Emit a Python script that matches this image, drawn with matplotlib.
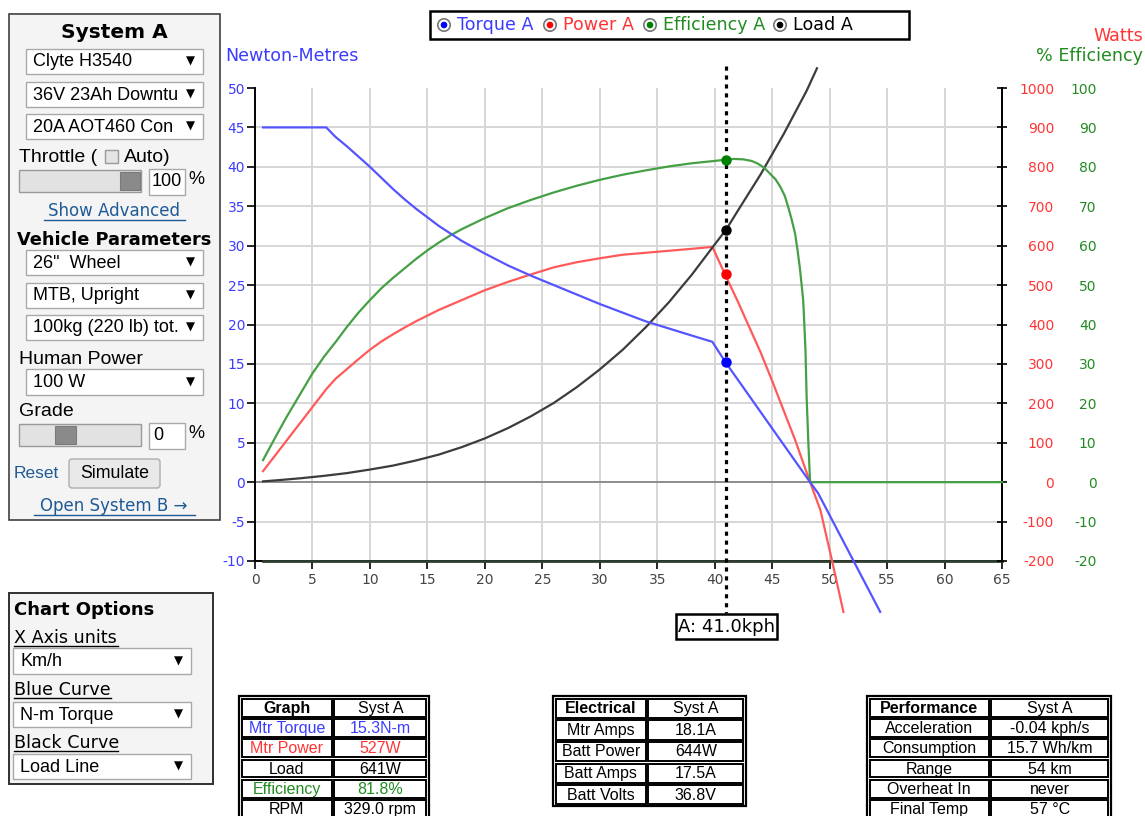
import matplotlib
matplotlib.use("Agg")
import matplotlib.pyplot as plt
from matplotlib.patches import Rectangle, Circle, FancyBboxPatch
from matplotlib import transforms

plt.rcParams['font.family'] = ['DejaVu Sans']

W, H = 1145, 816

# ---------------- data ----------------
torque_kph = [0.7, 6.2, 7, 8, 9, 10, 11, 12, 13, 14, 16, 18, 20, 22, 24, 26, 28, 30, 32,
              34, 36, 38, 39.8, 40.9, 48.3, 49.0, 54.4]
torque_nm = [45, 45, 43.8, 42.6, 41.3, 40.0, 38.6, 37.2, 35.9, 34.7, 32.5, 30.6, 29.0,
             27.5, 26.2, 25.0, 23.8, 22.6, 21.5, 20.4, 19.5, 18.6, 17.8, 15.3, 0, -1.4,
             -16.45]

power_kph = [0.7, 6.2, 7, 8, 9, 10, 11, 12, 13, 14, 16, 18, 20, 22, 24, 26, 28, 30, 32,
             34, 36, 38, 39.8, 40.9, 42, 43, 44, 45, 46, 47, 48.3, 49.2, 50.2, 51.2]
power_w = [28, 236, 262, 287, 312, 336, 357, 375, 392, 408, 437, 462, 487, 508, 527, 545,
           558, 568, 577, 582, 587, 592, 597, 527, 459, 394, 329, 257, 182, 107, 0, -71,
           -198, -329]

eff_kph = [0.7, 1.7, 2.7, 3.9, 5, 6, 7, 8, 9, 10, 11, 12, 13, 14, 15, 16, 17, 18, 20, 22,
           24, 26, 28, 30, 32, 34, 36, 38, 40, 40.9, 41.7, 42.5, 43.2, 43.7, 44.3, 44.8,
           45.3, 45.7, 46.1, 46.4, 46.7, 47.0, 47.2, 47.4, 47.55, 47.7, 47.8, 47.9, 48.0,
           48.15, 48.3, 65]
eff_pct = [5.6, 11.0, 16.3, 22.2, 27.6, 31.8, 35.5, 39.4, 43.0, 46.2, 49.2, 51.8, 54.2,
           56.6, 58.8, 60.8, 62.6, 64.2, 67.0, 69.5, 71.6, 73.5, 75.2, 76.7, 78.0, 79.1,
           80.1, 80.9, 81.5, 81.8, 82.0, 81.9, 81.5, 80.9, 79.8, 78.3, 76.8, 75.0, 72.6,
           69.8, 66.6, 63.0, 59.0, 54.6, 50.5, 46.2, 40.0, 33.5, 21.6, 10.0, 0, 0]

load_kph = [0.7, 2, 4, 6, 8, 10, 12, 14, 16, 18, 20, 22, 24, 26, 28, 30, 32, 34, 36, 38,
            40, 41, 42, 44, 46, 48, 48.9]
load_w = [2, 5, 10, 16, 23, 32, 42, 55, 70, 89, 111, 137, 167, 201, 241, 286, 336, 393,
          456, 526, 603, 641, 688, 781, 883, 993, 1050]

floor_kph = [0.7, 65]
floor_nm = [-10, -10]

cursor_kph = 41.0
cursor_torque = 15.3
cursor_power = 527
cursor_eff = 81.8
cursor_load = 641

x_ticks = list(range(0, 70, 5))
nm_ticks = list(range(-10, 55, 5))
watt_ticks = list(range(-200, 1100, 100))
eff_ticks = list(range(-20, 110, 10))

legend_labels = ["Torque A", "Power A", "Efficiency A", "Load A"]

graph_rows = [("Graph", "Syst A"), ("Mtr Torque", "15.3N-m"), ("Mtr Power", "527W"),
              ("Load", "641W"), ("Efficiency", "81.8%"), ("RPM", "329.0 rpm")]
elec_rows = [("Electrical", "Syst A"), ("Mtr Amps", "18.1A"), ("Batt Power", "644W"),
             ("Batt Amps", "17.5A"), ("Batt Volts", "36.8V")]
perf_rows = [("Performance", "Syst A"), ("Acceleration", "-0.04 kph/s"),
             ("Consumption", "15.7 Wh/km"), ("Range", "54 km"), ("Overheat In", "never"),
             ("Final Temp", "57 °C")]

# ---------------- colours ----------------
BLUE_T, RED_T, GREEN_T = '#3c3cff', '#ff3535', '#228b22'
BLUE_L, RED_L, GREEN_L, BLACK_L = '#5555ff', '#ff5a5a', '#45a045', '#3c3c3c'
LINK = '#1f5a96'
GRID = '#d6d6d6'

fig = plt.figure(figsize=(W / 100, H / 100), dpi=100)
fig.patch.set_facecolor('white')

L, R, T, B = 255, 1002, 88, 561
ax = fig.add_axes([L / W, 1 - B / H, (R - L) / W, (B - T) / H])
ax.set_xlim(0, 65)
ax.set_ylim(-10, 50)
ax.set_facecolor('white')

for sp in ['left', 'bottom', 'right']:
    ax.spines[sp].set_color('black')
    ax.spines[sp].set_linewidth(1.4)
ax.spines['top'].set_visible(False)

for xv in x_ticks[1:-1]:
    ax.axvline(xv, color=GRID, lw=1.4, zorder=0)
for yv in nm_ticks[1:-1]:
    ax.axhline(yv, color=('#8c8c8c' if yv == 0 else GRID), lw=1.4, zorder=0)

ax.set_xticks(x_ticks)
ax.set_xticklabels([str(v) for v in x_ticks])
ax.set_yticks(nm_ticks)
ax.set_yticklabels([str(v) for v in nm_ticks])
ax.tick_params(axis='x', direction='out', length=6, width=1.2, color='black',
               labelcolor='#444444', labelsize=10, pad=3)
ax.tick_params(axis='y', direction='out', length=6, width=1.2, color='black',
               labelcolor=BLUE_T, labelsize=10, pad=1)

axW = ax.twinx()
axW.set_ylim(-200, 1000)
for sp in ['left', 'top', 'bottom']:
    axW.spines[sp].set_visible(False)
axW.spines['right'].set_linewidth(1.4)
axW.set_yticks(watt_ticks)
axW.set_yticklabels([str(v) for v in watt_ticks])
axW.tick_params(axis='y', direction='inout', length=7, width=1.2, color='black',
                labelcolor=RED_T, labelsize=10, pad=34)
for lab in axW.get_yticklabels():
    lab.set_horizontalalignment('right')

axE = ax.twinx()
axE.set_ylim(-20, 100)
for sp in axE.spines.values():
    sp.set_visible(False)
axE.set_yticks(eff_ticks)
axE.set_yticklabels([str(v) for v in eff_ticks])
axE.tick_params(axis='y', length=0, labelcolor=GREEN_T, labelsize=10, pad=68)
for lab in axE.get_yticklabels():
    lab.set_horizontalalignment('right')

# curves
ax.plot(floor_kph, floor_nm, color='#2f3d2f', lw=2.0, clip_on=False, zorder=3)
axE.plot(eff_kph, eff_pct, color=GREEN_L, lw=1.6, clip_on=False, zorder=3)
axW.plot(power_kph, power_w, color=RED_L, lw=1.6, clip_on=False, zorder=3)
axW.plot(load_kph, load_w, color=BLACK_L, lw=1.6, clip_on=False, zorder=3)
axE.plot(torque_kph, torque_nm, color=BLUE_L, lw=1.6, clip_on=False, zorder=3,
         transform=ax.transData)

# cursor line and points
blend = transforms.blended_transform_factory(axE.transData, axE.transAxes)
axE.plot([cursor_kph, cursor_kph], [1 + 22 / 473, -52 / 473], transform=blend,
         color='black', lw=2.3, ls=(0, (1.3, 1.5)), clip_on=False, zorder=5)
axE.plot([cursor_kph], [cursor_eff], 'o', color='#008000', ms=6.5, zorder=6, clip_on=False)
axE.plot([cursor_kph], [cursor_load], 'o', color='black', ms=6.5, zorder=6, clip_on=False,
         transform=axW.transData)
axE.plot([cursor_kph], [cursor_power], 'o', color='#ff0000', ms=6.5, zorder=6,
         clip_on=False, transform=axW.transData)
axE.plot([cursor_kph], [cursor_torque], 'o', color='#0000ff', ms=6.5, zorder=6,
         clip_on=False, transform=ax.transData)

# ---------------- overlay in pixel coordinates ----------------
ov = fig.add_axes([0, 0, 1, 1])
ov.set_xlim(0, W)
ov.set_ylim(H, 0)
ov.axis('off')
ov.patch.set_alpha(0)

ARIAL = ['Liberation Sans', 'DejaVu Sans']
NARROW = ['Liberation Sans Narrow', 'Liberation Sans', 'DejaVu Sans']


def rect(x0, y0, x1, y1, fc='white', ec='#aaaaaa', lw=1.0, z=2):
    ov.add_patch(Rectangle((x0, y0), x1 - x0, y1 - y0, facecolor=fc, edgecolor=ec,
                           linewidth=lw, zorder=z))


def txt(x, y, s, size, color='black', ha='left', va='center', weight='normal',
        family=None, z=4):
    kw = {}
    if family is not None:
        kw['family'] = family
    return ov.text(x, y, s, fontsize=size, color=color, ha=ha, va=va, weight=weight,
                   zorder=z, **kw)


def uline(x0, x1, y, color):
    ov.plot([x0, x1], [y, y], color=color, lw=1.0, zorder=4)


def dropdown(x0, y0, x1, y1, label, size=13):
    rect(x0, y0, x1, y1, fc='white', ec='#a9a9a9', lw=1.0)
    txt(x0 + 7, (y0 + y1) / 2 + 0.5, label, size, family=ARIAL)
    txt(x1 - 13, (y0 + y1) / 2, '▼', 8.5, ha='center')


# Legend box
rect(430, 11, 909, 39, fc='white', ec='black', lw=1.8)
leg_x = [444, 550, 650, 780]
leg_c = ['#0000ff', '#ff0000', '#008000', '#000000']
leg_tc = [BLUE_T, RED_T, GREEN_T, 'black']
for xc, c, tc, lab in zip(leg_x, leg_c, leg_tc, legend_labels):
    ov.add_patch(Circle((xc, 25), 6.2, facecolor='white', edgecolor='#777777', lw=1.2,
                        zorder=3))
    ov.add_patch(Circle((xc, 25), 3.3, facecolor=c, edgecolor='none', zorder=4))
    txt(xc + 13, 25, lab, 12.6, color=tc)

# axis titles
txt(225, 56, 'Newton-Metres', 12.6, color=BLUE_T)
txt(1143, 36, 'Watts', 12.6, color=RED_T, ha='right')
txt(1143, 56, '% Efficiency', 12.6, color=GREEN_T, ha='right')

# cursor label
rect(676, 614, 777, 639, fc='white', ec='black', lw=1.8, z=5)
txt(726.5, 627, 'A: 41.0kph', 13, ha='center', z=6)

# ---------------- left panel ----------------
rect(9, 14, 220, 520, fc='#f4f4f4', ec='#404040', lw=1.2, z=1)
txt(114, 32, 'System A', 14.5, ha='center', weight='bold')
dropdown(26, 49, 203, 74, 'Clyte H3540')
dropdown(26, 82, 203, 107, '36V 23Ah Downtu')
dropdown(26, 114, 203, 139, '20A AOT460 Con')
txt(19, 157, 'Throttle (', 14, family=ARIAL)
rect(105, 150, 118, 163, fc='#e4e4e4', ec='#9a9a9a', lw=1.0)
txt(124, 157, 'Auto)', 14, family=ARIAL)
rect(19, 170, 141, 192, fc='#e2e2e2', ec='#9a9a9a', lw=1.0)
rect(120, 172, 140, 190, fc='#8a8a8a', ec='#7a7a7a', lw=0.8)
rect(149, 169, 185, 195, fc='white', ec='#a9a9a9', lw=1.0)
txt(152, 182, '100', 13, family=ARIAL)
txt(188, 180, '%', 13, family=ARIAL)
txt(114, 211, 'Show Advanced', 12, color=LINK, ha='center')
uline(44, 185, 220, LINK)
txt(114, 240, 'Vehicle Parameters', 12.8, ha='center', weight='bold')
dropdown(26, 250, 203, 275, '26"  Wheel')
dropdown(26, 283, 203, 308, 'MTB, Upright')
dropdown(26, 315, 203, 340, '100kg (220 lb) tot.')
txt(19, 359, 'Human Power', 14, family=ARIAL)
dropdown(26, 369, 203, 395, '100 W')
txt(19, 411, 'Grade', 14, family=ARIAL)
rect(19, 424, 141, 446, fc='#e2e2e2', ec='#9a9a9a', lw=1.0)
rect(55, 426, 76, 444, fc='#8a8a8a', ec='#7a7a7a', lw=0.8)
rect(149, 423, 185, 449, fc='white', ec='#a9a9a9', lw=1.0)
txt(153, 436, '0', 13, family=ARIAL)
txt(188, 434, '%', 13, family=ARIAL)
txt(14, 473, 'Reset', 12.5, color=LINK, family=ARIAL)
ov.add_patch(FancyBboxPatch((69, 459), 91, 29, boxstyle='round,pad=0,rounding_size=3',
                            facecolor='#e9e9e9', edgecolor='#adadad', lw=1.0, zorder=2))
txt(114.5, 473.5, 'Simulate', 12.8, ha='center', family=ARIAL)
txt(114, 506, 'Open System B →', 12, color=LINK, ha='center')
uline(34, 195, 515, LINK)

# ---------------- chart options panel ----------------
rect(9, 593, 213, 784, fc='#f4f4f4', ec='#303030', lw=1.4, z=1)
txt(14, 610, 'Chart Options', 13, weight='bold')
txt(14, 638, 'X Axis units', 12.6)
uline(14, 118, 646, 'black')
dropdown(13, 648, 191, 674, 'Km/h')
txt(14, 690, 'Blue Curve', 12.6)
uline(14, 111, 698, 'black')
dropdown(13, 702, 191, 727, 'N-m Torque')
txt(14, 743, 'Black Curve', 12.6)
uline(14, 118, 751, 'black')
dropdown(13, 754, 191, 779, 'Load Line')


# ---------------- tables ----------------
def table(x0, xs, x1, y0, rh, rows, colors):
    n = len(rows)
    y1 = y0 + n * rh + 2
    rect(x0, y0, x1, y1, fc='white', ec='black', lw=1.6, z=2)
    for i, (a, b) in enumerate(rows):
        ry0 = y0 + 1.5 + i * rh
        ry1 = ry0 + rh
        for cx0, cx1, s in ((x0 + 1.5, xs, a), (xs, x1 - 1.5, b)):
            rect(cx0 + 1.2, ry0 + 1.2, cx1 - 1.2, ry1 - 1.2, fc='white', ec='black',
                 lw=1.4, z=3)
            txt((cx0 + cx1) / 2, (ry0 + ry1) / 2 + 0.5, s, 11.5, color=colors[i],
                ha='center', weight=('bold' if (i == 0 and s == a) else 'normal'),
                family=NARROW)


table(239, 333, 429, 696, 20.3, graph_rows,
      ['black', BLUE_T, RED_T, 'black', GREEN_T, 'black'])
table(553, 647, 746, 696, 21.6, elec_rows, ['black'] * 5)
table(867, 990, 1111, 696, 20.3, perf_rows, ['black'] * 6)

fig.savefig('out.png', dpi=100, facecolor='white')
